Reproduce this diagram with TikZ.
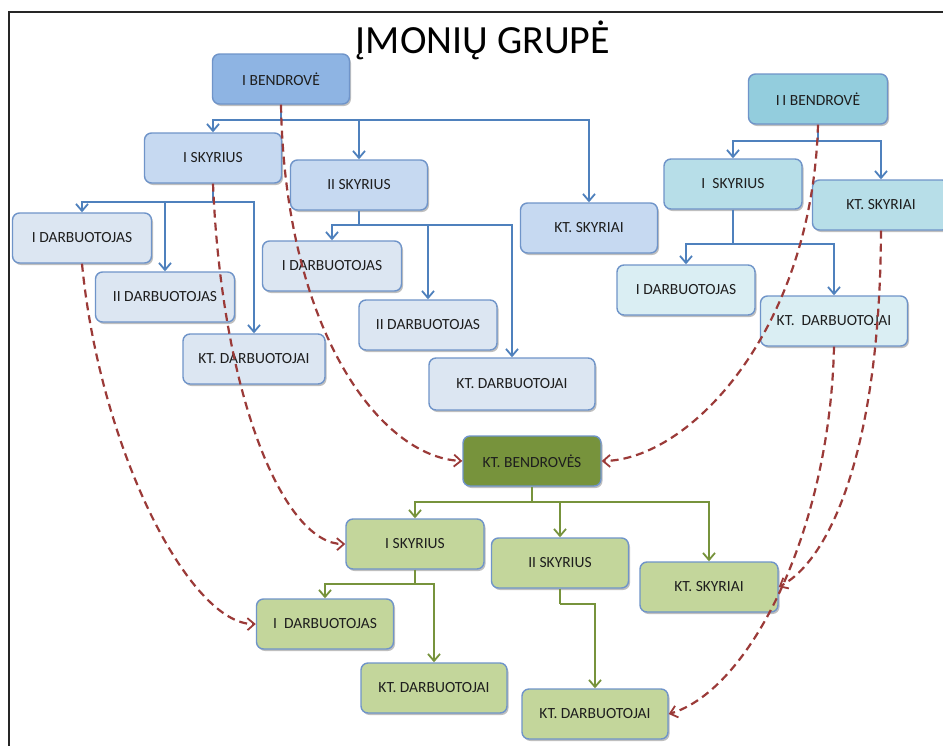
\documentclass[tikz,border=0pt]{standalone}
\usepackage{fontspec}
\setmainfont{Carlito}
\usetikzlibrary{arrows.meta,shadows}
\definecolor{bline}{HTML}{4F81BD}
\definecolor{boxline}{HTML}{6F94C9}
\definecolor{bdark}{HTML}{8EB4E3}
\definecolor{bmid}{HTML}{C6D9F1}
\definecolor{blight}{HTML}{DCE6F2}
\definecolor{cdark}{HTML}{93CDDD}
\definecolor{cmid}{HTML}{B7DEE8}
\definecolor{clight}{HTML}{DAEEF3}
\definecolor{gdark}{HTML}{77933C}
\definecolor{gmid}{HTML}{C3D69B}
\definecolor{reddash}{HTML}{9B3A38}
\definecolor{txt}{HTML}{1E1E1E}
\tikzset{
  box/.style={draw=boxline, line width=1.4pt, rounded corners=7pt, minimum height=50pt,
    minimum width=137pt, inner sep=0pt, text=txt, font=\fontsize{15.5}{17}\selectfont,
    drop shadow={shadow xshift=1.5pt, shadow yshift=-2pt, opacity=0.25, fill=black}},
  arr/.style={-{Straight Barb[length=7pt,width=12pt,line width=1.8pt]}},
  bl/.style={draw=bline, line width=2pt},
  gl/.style={draw=gdark, line width=2pt},
  rd/.style={draw=reddash, line width=2.2pt, dash pattern=on 8pt off 5pt,
    -{Straight Barb[length=7pt,width=12pt,line width=1.8pt]}},
}
\begin{document}
\begin{tikzpicture}[x=1pt,y=-1pt]
\useasboundingbox (0,0) rectangle (943,745);
\fill[white] (0,0) rectangle (943,745);
\draw[line width=2.5pt, black!85] (9,746) -- (9,12) -- (944,12);
\node[font=\fontsize{40}{44}\selectfont, text=black, anchor=base] (title) at (483,53) {ĮMONIŲ GRUPĖ};

% blue company
\node[box, fill=bdark] (ib) at (281,79) {I BENDROVĖ};
\node[box, fill=bmid] (isk) at (213,158) {I SKYRIUS};
\node[box, fill=bmid] (iisk) at (359,185) {II SKYRIUS};
\node[box, fill=bmid] (kts) at (589,228) {KT. SKYRIAI};
\node[box, fill=blight, minimum width=139pt] (d1) at (82,238) {I DARBUOTOJAS};
\node[box, fill=blight, minimum width=139pt] (d2) at (165,297) {II DARBUOTOJAS};
\node[box, fill=blight, minimum width=142pt] (d3) at (254,359) {KT. DARBUOTOJAI};
\node[box, fill=blight, minimum width=139pt] (e1) at (332,266) {I DARBUOTOJAS};
\node[box, fill=blight, minimum width=138pt] (e2) at (428,325) {II DARBUOTOJAS};
\node[box, fill=blight, minimum width=166pt, minimum height=52pt] (e3) at (512,384) {KT. DARBUOTOJAI};

% cyan company
\node[box, fill=cdark, minimum width=139pt] (iib) at (818,99) {I\,I BENDROVĖ};
\node[box, fill=cmid, minimum width=138pt] (csk) at (733,184) {I\ \ SKYRIUS};
\node[box, fill=cmid] (ckts) at (881,205) {KT. SKYRIAI};
\node[box, fill=clight, minimum width=138pt] (cd1) at (686,290) {I DARBUOTOJAS};
\node[box, fill=clight, minimum width=147pt] (cd2) at (834,321) {KT.\ \ DARBUOTOJAI};

% green company
\node[box, fill=gdark, minimum width=138pt] (gb) at (532,461) {KT. BENDROVĖS};
\node[box, fill=gmid, minimum width=138pt] (gs1) at (415,544) {I SKYRIUS};
\node[box, fill=gmid] (gs2) at (560,563) {II SKYRIUS};
\node[box, fill=gmid, minimum width=138pt] (gs3) at (709,587) {KT. SKYRIAI};
\node[box, fill=gmid, minimum width=137pt] (gd1) at (325,624) {I\ \ DARBUOTOJAS};
\node[box, fill=gmid, minimum width=146pt] (gd2) at (434,688) {KT. DARBUOTOJAI};
\node[box, fill=gmid, minimum width=146pt] (gd3) at (595,714) {KT. DARBUOTOJAI};

% blue connectors
\coordinate (bb1) at (281,120);
\draw[bl] (ib.south) -- (bb1);
\draw[bl,arr] (bb1) -| (isk.north);
\draw[bl,arr] (bb1) -| (iisk.north);
\draw[bl,arr] (bb1) -| (kts.north);
\coordinate (bb2) at (213,202);
\draw[bl] (isk.south) -- (bb2);
\draw[bl,arr] (bb2) -| (d1.north);
\draw[bl,arr] (bb2) -| (d2.north);
\draw[bl,arr] (bb2) -| (d3.north);
\coordinate (bb3) at (359,225);
\draw[bl] (iisk.south) -- (bb3);
\draw[bl,arr] (bb3) -| (e1.north);
\draw[bl,arr] (bb3) -| (e2.north);
\draw[bl,arr] (bb3) -| (e3.north);

% cyan connectors
\coordinate (cb1) at (818,141);
\draw[bl] (iib.south) -- (cb1);
\draw[bl,arr] (cb1) -| (csk.north);
\draw[bl,arr] (cb1) -| (ckts.north);
\coordinate (cb2) at (733,244);
\draw[bl] (csk.south) -- (cb2);
\draw[bl,arr] (cb2) -| (cd1.north);
\draw[bl,arr] (cb2) -| (cd2.north);

% green connectors
\coordinate (gb1) at (532,502);
\draw[gl] (gb.south) -- (gb1);
\draw[gl,arr] (gb1) -| (gs1.north);
\draw[gl,arr] (gb1) -| (gs2.north);
\draw[gl,arr] (gb1) -| (gs3.north);
\coordinate (gb2) at (415,584);
\draw[gl] (gs1.south) -- (gb2);
\draw[gl,arr] (gb2) -| (gd1.north);
\draw[gl,arr] (gb2) -| (gd2.north);
\coordinate (gb3) at (560,604);
\draw[gl] (gs2.south) -- (gb3);
\draw[gl,arr] (gb3) -| (gd3.north);

% dashed red links
\draw[rd] (ib.south) .. controls (285,330) and (380,457) .. (gb.west);
\draw[rd] (isk.south) .. controls (222,400) and (285,545) .. (gs1.west);
\draw[rd] (d1.south) .. controls (100,450) and (190,625) .. (gd1.west);
\draw[rd] (iib.south) .. controls (812,330) and (690,460) .. (gb.east);
\draw[rd] (ckts.south) .. controls (880,450) and (830,560) .. (gs3.east);
\draw[rd] (cd2.south) .. controls (830,530) and (750,690) .. (gd3.east);
\end{tikzpicture}
\end{document}
